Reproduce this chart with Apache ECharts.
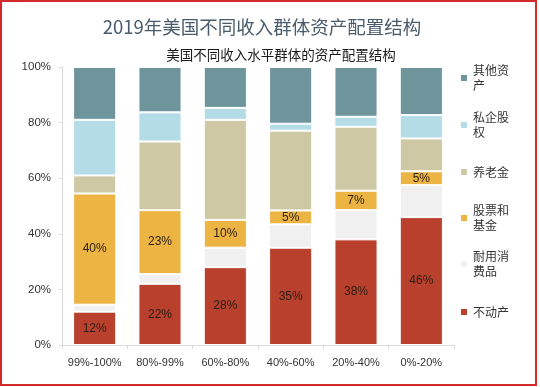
<!DOCTYPE html>
<html>
<head>
<meta charset="utf-8">
<script src="https://cdn.jsdelivr.net/npm/echarts@6/dist/echarts.min.js"></script>
<style>
html,body{margin:0;padding:0;background:#fff;}
#c{width:540px;height:387px;}
</style>
</head>
<body>
<div id="c"></div>
<script>
var categories = ['99%-100%', '80%-99%', '60%-80%', '40%-60%', '20%-40%', '0%-20%'];
var realEstate = [12, 22, 28, 35, 38, 46];
var durables   = [2.5, 3.5, 7, 8.4, 10.5, 11.5];
var stocks     = [40, 23, 10, 5, 7, 5];
var pension    = [6.5, 24.7, 36, 28.7, 23, 11.8];
var privateEq  = [20, 10.5, 4.3, 2.5, 3.6, 8.4];
var otherAsset = [19, 16.3, 14.7, 20.4, 17.9, 17.3];
var yTicks = [0, 20, 40, 60, 80, 100];

var seriesNames = ['不动产', '耐用消费品', '股票和基金', '养老金', '私企股权', '其他资产'];
var seriesData = [realEstate, durables, stocks, pension, privateEq, otherAsset];
var colors = ['#B9402D', '#F0F0F0', '#EBB443', '#CEC9A4', '#B4DCE6', '#6E949C'];
var showLabel = [true, false, true, false, false, false];

var font = 'Noto Sans CJK SC';

var series = seriesNames.map(function (n, i) {
  return {
    name: n,
    type: 'bar',
    stack: 'total',
    barWidth: '66%',
    data: seriesData[i],
    itemStyle: { color: colors[i], borderColor: '#ffffff', borderWidth: 1 },
    label: {
      show: showLabel[i],
      position: 'inside',
      formatter: '{c}%',
      color: '#2a1d14',
      fontSize: 12,
      fontFamily: 'Liberation Sans'
    }
  };
});

// legend entries (top to bottom)
var legendOrder = ['其他资产', '私企股权', '养老金', '股票和基金', '耐用消费品', '不动产'];
var legendTops = [55.5, 102.5, 164.5, 195.5, 241.5, 304.5];
var legends = legendOrder.map(function (n, i) {
  var twoLine = n.length > 3;
  return {
    data: [n],
    orient: 'vertical',
    left: 459,
    top: legendTops[i],
    padding: 0,
    itemWidth: 8,
    itemHeight: 8,
    itemGap: 0,
    icon: 'rect',
    selectedMode: false,
    formatter: function (name) {
      return name.length > 3 ? name.slice(0, 3) + '\n' + name.slice(3) : name;
    },
    textStyle: {
      fontSize: 12,
      lineHeight: 15,
      color: '#333333',
      fontFamily: font,
      padding: twoLine ? [15, 0, 0, 0] : 0
    }
  };
});

var chart = echarts.init(document.getElementById('c'), null, { renderer: 'canvas' });
chart.setOption({
  animation: false,
  backgroundColor: '#ffffff',
  title: [
    {
      text: '2019年美国不同收入群体资产配置结构',
      left: 257,
      textAlign: 'center',
      top: 13,
      textStyle: { fontSize: 18.5, fontWeight: 'normal', color: '#4A5B6C', fontFamily: font }
    },
    {
      text: '美国不同收入水平群体的资产配置结构',
      left: 276,
      textAlign: 'center',
      top: 43,
      textStyle: { fontSize: 13.5, fontWeight: 'normal', color: '#1a1a1a', fontFamily: font }
    }
  ],
  legend: legends,
  grid: { left: 62, right: 86, top: 67, bottom: 42, containLabel: false },
  xAxis: {
    type: 'category',
    data: categories,
    axisLine: { lineStyle: { color: '#D9D9D9', width: 1 } },
    axisTick: { show: true, length: 4, lineStyle: { color: '#D9D9D9' } },
    axisLabel: { interval: 0, color: '#333333', fontSize: 11, margin: 12, fontFamily: 'Liberation Sans' }
  },
  yAxis: {
    type: 'value',
    min: yTicks[0],
    max: yTicks[yTicks.length - 1],
    interval: yTicks[1] - yTicks[0],
    axisLine: { show: true, lineStyle: { color: '#D9D9D9', width: 1 } },
    axisTick: { show: true, length: 3, lineStyle: { color: '#D9D9D9' } },
    splitLine: { show: false },
    axisLabel: { formatter: '{value}%', color: '#333333', fontSize: 11.5, margin: 11, fontFamily: 'Liberation Sans' }
  },
  series: series,
  graphic: [
    {
      type: 'rect',
      shape: { x: 1, y: 1, width: 535, height: 384 },
      style: { fill: null, stroke: '#D42A2A', lineWidth: 2 },
      silent: true
    }
  ]
});
</script>
</body>
</html>
